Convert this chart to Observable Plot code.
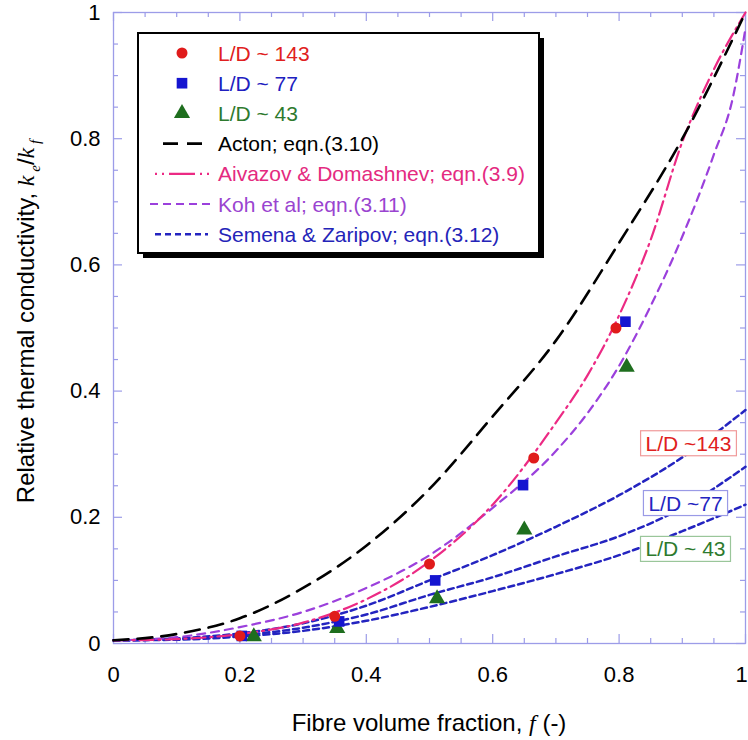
<!DOCTYPE html>
<html>
<head>
<meta charset="utf-8">
<script src="https://cdn.jsdelivr.net/npm/d3@7"></script>
<script src="https://cdn.jsdelivr.net/npm/@observablehq/plot@0.6"></script>
<style>
  body { margin: 0; background: #fff; }
  #chart { position: relative; width: 748px; height: 740px; }
</style>
</head>
<body>
<div id="chart"></div>
<script>
// ---------- data ----------
const modelGrid = [0, 0.1, 0.2, 0.3, 0.4, 0.5, 0.6, 0.7, 0.8, 0.9, 1.0];
const actonY = [0.005, 0.015, 0.04, 0.088, 0.155, 0.245, 0.36, 0.48, 0.635, 0.80, 1.0];

const aivazovX = [0, 0.1, 0.2, 0.3, 0.4, 0.5, 0.6, 0.7, 0.75, 0.8, 0.85, 0.9, 0.95, 1.0];
const aivazovY = [0.005, 0.007, 0.015, 0.033, 0.07, 0.13, 0.22, 0.35, 0.425, 0.52, 0.64, 0.795, 0.91, 1.0];

const kohX = [0, 0.1, 0.2, 0.3, 0.4, 0.5, 0.6, 0.7, 0.75, 0.8, 0.85, 0.9, 0.95, 0.98, 1.0];
const kohY = [0.005, 0.01, 0.026, 0.05, 0.088, 0.14, 0.215, 0.305, 0.365, 0.44, 0.535, 0.645, 0.775, 0.865, 0.975];

const semena143Y = [0.005, 0.008, 0.016, 0.032, 0.06, 0.10, 0.14, 0.185, 0.235, 0.295, 0.37];
const semena77Y  = [0.005, 0.007, 0.013, 0.025, 0.046, 0.077, 0.105, 0.138, 0.17, 0.215, 0.28];
const semena43Y  = [0.005, 0.006, 0.011, 0.02, 0.036, 0.058, 0.083, 0.11, 0.14, 0.178, 0.22];

const ld143X = [0.2, 0.35, 0.5, 0.665, 0.795];
const ld143Y = [0.012, 0.043, 0.126, 0.294, 0.50];
const ld77X  = [0.203, 0.357, 0.509, 0.648, 0.81];
const ld77Y  = [0.012, 0.035, 0.10, 0.251, 0.51];
const ld43X  = [0.222, 0.354, 0.512, 0.65, 0.812];
const ld43Y  = [0.011, 0.024, 0.071, 0.18, 0.438];

const majorTicks = [0, 0.2, 0.4, 0.6, 0.8, 1];
const tickLabels = ["0", "0.2", "0.4", "0.6", "0.8", "1"];
const minorTicks = [0.05, 0.1, 0.15, 0.25, 0.3, 0.35, 0.45, 0.5, 0.55, 0.65, 0.7, 0.75, 0.85, 0.9, 0.95];

const legendLabels = ["L/D ~ 143", "L/D ~ 77", "L/D ~ 43", "Acton; eqn.(3.10)",
  "Aivazov & Domashnev; eqn.(3.9)", "Koh et al; eqn.(3.11)", "Semena & Zaripov; eqn.(3.12)"];
const annotationLabels = ["L/D ~143", "L/D ~77", "L/D ~ 43"];

// ---------- styles ----------
const C = {
  red: "#e01b1b", blue: "#1515d0", green: "#1e6e1e", black: "#000",
  pink: "#ec2a84", purple: "#9b40dc", semena: "#2424c0", frame: "#9c9ce8"
};
const textColors = ["#e02020", "#2020c0", "#2e7a2e", "#000", "#e42a80", "#9a44d0", "#2424b8"];
const boxColors = ["#f09a9a", "#9a9ae6", "#9ac69a"];
const annTextColors = ["#e02020", "#2424c0", "#2e7a2e"];

const W = 748, H = 740, mL = 113, mR = 3, mT = 12, mB = 97;
const innerW = W - mL - mR, innerH = H - mT - mB;
const rows = (xs, ys) => xs.map((x, i) => ({x, y: ys[i]}));

const acton = rows(modelGrid, actonY);
const aivazov = rows(aivazovX, aivazovY);
const koh = rows(kohX, kohY);
const sem143 = rows(modelGrid, semena143Y);
const sem77 = rows(modelGrid, semena77Y);
const sem43 = rows(modelGrid, semena43Y);
const ends = [sem143, sem77, sem43].map((s, i) => ({...s[s.length - 1], label: annotationLabels[i], i}));
const annDx = [-57, -60, -60];
const annDy = [34, 37, 45];

const fmt = d => tickLabels[majorTicks.indexOf(d)];
const majorLen = 9, minorLen = 5;

const chart = Plot.plot({
  width: W, height: H,
  marginLeft: mL, marginRight: mR, marginTop: mT, marginBottom: mB,
  x: {domain: [0, 1]},
  y: {domain: [0, 1]},
  style: {fontFamily: "'Liberation Sans', Arial, sans-serif", fontSize: "22px", color: "#000", background: "#fff", overflow: "visible"},
  marks: [
    // inward ticks on four sides
    Plot.tickX(majorTicks, {x: d => d, insetTop: innerH - majorLen, stroke: C.frame, strokeWidth: 1.2}),
    Plot.tickX(minorTicks, {x: d => d, insetTop: innerH - minorLen, stroke: C.frame, strokeWidth: 1.2}),
    Plot.tickX(majorTicks, {x: d => d, insetBottom: innerH - majorLen, stroke: C.frame, strokeWidth: 1.2}),
    Plot.tickX(minorTicks, {x: d => d, insetBottom: innerH - minorLen, stroke: C.frame, strokeWidth: 1.2}),
    Plot.tickY(majorTicks, {y: d => d, insetRight: innerW - majorLen, stroke: C.frame, strokeWidth: 1.2}),
    Plot.tickY(minorTicks, {y: d => d, insetRight: innerW - minorLen, stroke: C.frame, strokeWidth: 1.2}),
    Plot.tickY(majorTicks, {y: d => d, insetLeft: innerW - majorLen, stroke: C.frame, strokeWidth: 1.2}),
    Plot.tickY(minorTicks, {y: d => d, insetLeft: innerW - minorLen, stroke: C.frame, strokeWidth: 1.2}),
    Plot.frame({stroke: C.frame, strokeWidth: 1.3}),
    Plot.axisX({ticks: majorTicks, tickSize: 0, tickPadding: 23, tickFormat: fmt, label: null, fontSize: 22}),
    Plot.axisY({ticks: majorTicks, tickSize: 0, tickPadding: 13, tickFormat: fmt, label: null, fontSize: 22}),
    // model curves
    Plot.line(sem43, {x: "x", y: "y", stroke: C.semena, strokeWidth: 2.5, strokeDasharray: "6,4", curve: "monotone-x"}),
    Plot.line(sem77, {x: "x", y: "y", stroke: C.semena, strokeWidth: 2.5, strokeDasharray: "6,4", curve: "monotone-x"}),
    Plot.line(sem143, {x: "x", y: "y", stroke: C.semena, strokeWidth: 2.5, strokeDasharray: "6,4", curve: "monotone-x"}),
    Plot.line(koh, {x: "x", y: "y", stroke: C.purple, strokeWidth: 2.2, strokeDasharray: "8,6", curve: "monotone-x"}),
    Plot.line(aivazov, {x: "x", y: "y", stroke: C.pink, strokeWidth: 2.2, strokeDasharray: "14,5,2,5", curve: "monotone-x"}),
    Plot.line(acton, {x: "x", y: "y", stroke: C.black, strokeWidth: 2.6, strokeDasharray: "15,9", curve: "monotone-x"}),
    // measured data
    Plot.dot(rows(ld43X, ld43Y), {x: "x", y: "y", symbol: "triangle", r: 6, fill: C.green, stroke: null}),
    Plot.dot(rows(ld77X, ld77Y), {x: "x", y: "y", symbol: "square", r: 6, fill: C.blue, stroke: null}),
    Plot.dot(rows(ld143X, ld143Y), {x: "x", y: "y", symbol: "circle", r: 5.5, fill: C.red, stroke: null}),
    // annotations anchored at the Semena curve ends
    Plot.text(ends, {x: "x", y: "y", text: "label", fill: d => annTextColors[d.i],
      fontSize: 21, textAnchor: "middle", lineAnchor: "middle"})
  ]
});

document.getElementById("chart").appendChild(chart);
const svg = d3.select(chart);

// keep the last x tick label inside the picture
const xLabels = svg.selectAll('g[aria-label="x-axis tick label"] text').nodes();
if (xLabels.length) d3.select(xLabels[xLabels.length - 1]).attr("dx", -4);

// position annotations and draw their boxes
svg.selectAll('g[aria-label="text"] text').each(function(d, k) {
  const t = d3.select(this);
  const cur = t.attr("transform") || "";
  t.attr("transform", cur + ` translate(${annDx[k]},${annDy[k]})`);
  const bb = this.getBBox();
  d3.select(this.parentNode).insert("rect", () => this)
    .attr("x", bb.x - 5).attr("y", bb.y - 1).attr("width", bb.width + 10).attr("height", bb.height + 2)
    .attr("transform", t.attr("transform"))
    .attr("fill", "#fff").attr("stroke", boxColors[k]).attr("stroke-width", 1.2);
});

// axis titles
const xs = chart.scale("x"), ys = chart.scale("y");
const xt = svg.append("text")
  .attr("x", (xs.apply(0) + xs.apply(1)) / 2).attr("y", 731)
  .attr("text-anchor", "middle").attr("font-size", 24).attr("fill", "#000");
xt.append("tspan").text("Fibre volume fraction, ");
xt.append("tspan").attr("font-family", "'Liberation Serif', serif").attr("font-style", "italic").text("f");
xt.append("tspan").text(" (-)");

const yt = svg.append("text")
  .attr("transform", `translate(34,${(ys.apply(0) + ys.apply(1)) / 2 - 6}) rotate(-90)`)
  .attr("text-anchor", "middle").attr("font-size", 24).attr("fill", "#000");
yt.append("tspan").text("Relative thermal conductivity, ");
yt.append("tspan").attr("font-family", "'Liberation Serif', serif").attr("font-style", "italic").text("k");
yt.append("tspan").attr("font-size", 15).attr("dy", 6).attr("font-family", "'Liberation Serif', serif").attr("font-style", "italic").text(" e");
yt.append("tspan").attr("dy", -6).text("/");
yt.append("tspan").attr("font-family", "'Liberation Serif', serif").attr("font-style", "italic").text("k");
yt.append("tspan").attr("font-size", 15).attr("dy", 6).attr("font-family", "'Liberation Serif', serif").attr("font-style", "italic").text(" f");

// legend box with drop shadow
const lg = svg.append("g").attr("font-size", 21).attr("text-anchor", "start");
const LX = 138, LY = 33, LW = 401, LH = 220;
lg.append("rect").attr("x", LX + 5).attr("y", LY + 5).attr("width", LW).attr("height", LH).attr("fill", "#000");
lg.append("rect").attr("x", LX).attr("y", LY).attr("width", LW).attr("height", LH)
  .attr("fill", "#fff").attr("stroke", "#000").attr("stroke-width", 2);
const rowY = i => 53 + i * 30.2;
const symbols = [d3.symbolCircle, d3.symbolSquare, d3.symbolTriangle];
const symFill = [C.red, C.blue, C.green];
const symSize = [5.5, 6, 6];
symbols.forEach((s, i) => {
  lg.append("path").attr("d", d3.symbol(s, Math.PI * symSize[i] * symSize[i])())
    .attr("transform", `translate(182,${rowY(i)})`).attr("fill", symFill[i]);
});
const lineStyles = [
  {stroke: C.black, dash: "15,9", w: 2.6, x1: 163, x2: 209},
  {stroke: C.pink, dash: "2,5,2,5,24,0", w: 2.2, x1: 155, x2: 209},
  {stroke: C.purple, dash: "8,5", w: 2.2, x1: 150, x2: 212},
  {stroke: C.semena, dash: "6,4", w: 2.5, x1: 155, x2: 208}
];
lineStyles.forEach((s, j) => {
  lg.append("line").attr("x1", s.x1).attr("x2", s.x2).attr("y1", rowY(j + 3)).attr("y2", rowY(j + 3))
    .attr("stroke", s.stroke).attr("stroke-width", s.w).attr("stroke-dasharray", s.dash);
});
legendLabels.forEach((t, i) => {
  lg.append("text").attr("x", 218).attr("y", rowY(i)).attr("dy", "0.36em")
    .attr("text-anchor", "start").attr("fill", textColors[i]).text(t);
});
</script>
</body>
</html>
